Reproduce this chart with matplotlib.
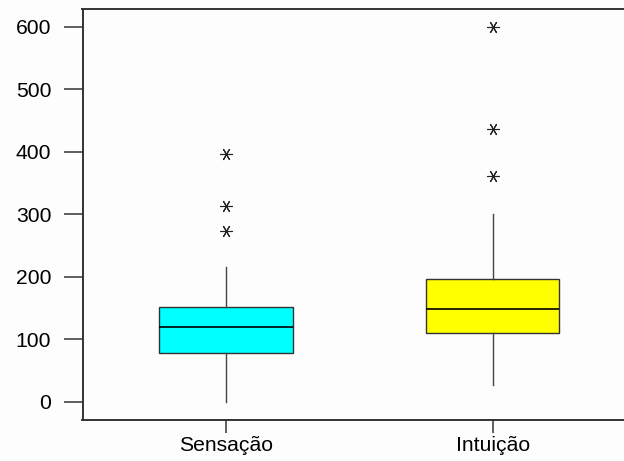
import matplotlib
matplotlib.use("Agg")
import matplotlib.pyplot as plt

plt.rcParams['font.family'] = ['Liberation Sans', 'DejaVu Sans']

# dados
grupos = ["Sensação", "Intuição"]
q1 = [78, 110]
mediana = [120, 148]
q3 = [151, 196]
bigode_inf = [0, 27]
bigode_sup = [216, 300]
outliers = [[273, 313, 397], [361, 436, 600]]
cores = ["#00FFFF", "#FFFF00"]

stats = []
for i, g in enumerate(grupos):
    stats.append(dict(label=g, q1=q1[i], med=mediana[i], q3=q3[i],
                      whislo=bigode_inf[i], whishi=bigode_sup[i],
                      fliers=outliers[i]))

fig = plt.figure(figsize=(6.24, 4.61), dpi=100, facecolor="#fdfdfd")
ax = fig.add_axes([82.5 / 624, 1 - 420 / 461, 1 - 82.5 / 624, (420 - 9) / 461])
ax.set_facecolor("#fdfdfd")

bp = ax.bxp(stats, positions=[1, 2], widths=0.5, patch_artist=True,
            showcaps=False,
            boxprops=dict(edgecolor="#333333", linewidth=1.0),
            medianprops=dict(color="black", linewidth=1.2),
            whiskerprops=dict(color="#444444", linewidth=1.0),
            flierprops=dict(marker=(6, 2, 90), markersize=9,
                            markeredgecolor="#222222", markeredgewidth=0.8,
                            linestyle="none"))
for caixa, c in zip(bp["boxes"], cores):
    caixa.set_facecolor(c)

ax.set_xlim(0.462, 2.492)
ax.set_ylim(-29.3, 628.3)
ax.set_yticks([0, 100, 200, 300, 400, 500, 600])
ax.set_xticks([1, 2])
ax.set_xticklabels(grupos)

ax.spines["right"].set_visible(False)
for s in ["left", "top", "bottom"]:
    ax.spines[s].set_color("#333333")
    ax.spines[s].set_linewidth(1.4)

ax.tick_params(axis="y", direction="out", length=13.5, width=1.2,
               color="#444444", pad=9, labelsize=15.2)
ax.tick_params(axis="x", direction="out", length=9.5, width=1.2,
               color="#444444", pad=2, labelsize=15.2)

fig.savefig("out.png", dpi=100, facecolor=fig.get_facecolor())
